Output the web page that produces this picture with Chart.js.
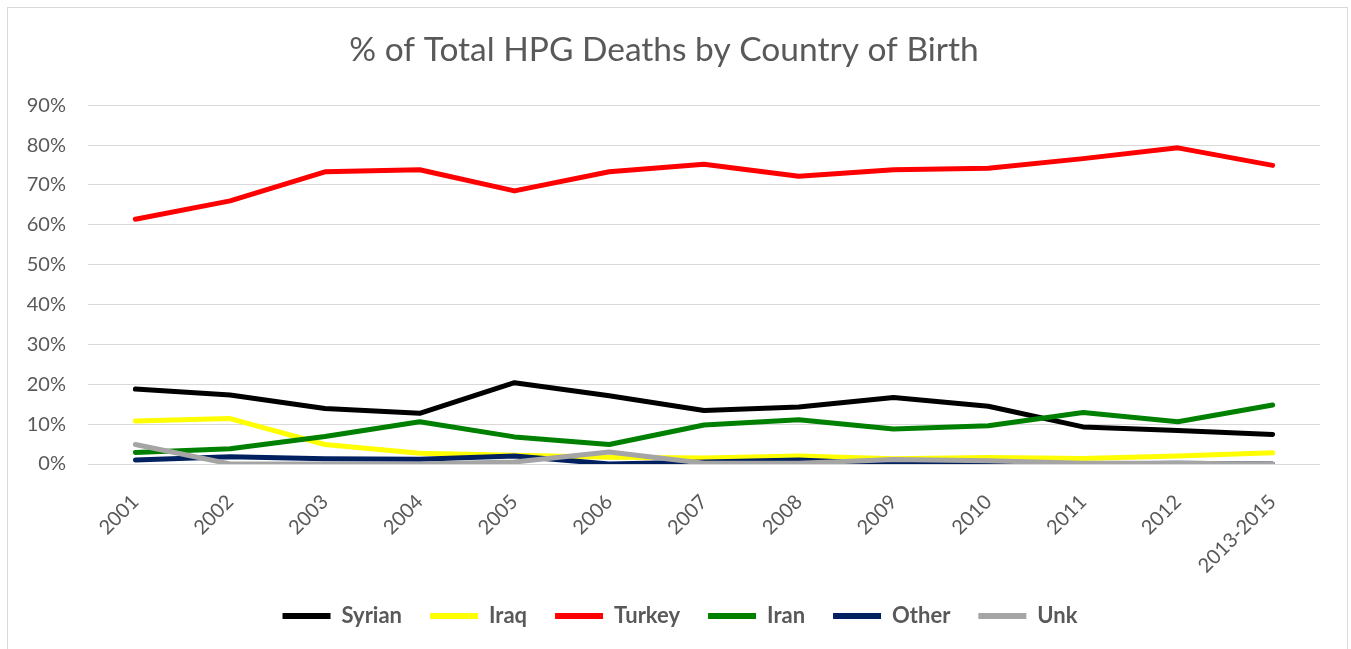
<!DOCTYPE html>
<html>
<head>
<meta charset="utf-8">
<script src="https://cdn.jsdelivr.net/npm/chart.js@4.4.0/dist/chart.umd.min.js"></script>
<style>
  body { margin: 0; background: #fff; }
  canvas { display: block; }
</style>
</head>
<body>
<canvas id="hpgChart" width="1351" height="649"></canvas>
<script>
const years = ['2001', '2002', '2003', '2004', '2005', '2006', '2007', '2008', '2009', '2010', '2011', '2012', '2013-2015'];

const syrian = [18.8, 17.3, 13.9, 12.7, 20.4, 17.1, 13.4, 14.3, 16.7, 14.5, 9.3, 8.4, 7.4];
const iraq   = [10.8, 11.4, 4.9, 2.7, 2.2, 1.7, 1.5, 2.0, 1.3, 1.6, 1.4, 2.0, 2.8];
const turkey = [61.4, 66.0, 73.3, 73.8, 68.5, 73.3, 75.2, 72.2, 73.8, 74.2, 76.6, 79.3, 74.9];
const iran   = [2.9, 3.8, 6.9, 10.6, 6.8, 4.9, 9.8, 11.1, 8.8, 9.6, 12.9, 10.6, 14.8];
const other  = [1.0, 1.8, 1.3, 1.2, 2.0, 0.0, 0.5, 1.0, 0.0, 0.1, 0.0, 0.2, 0.0];
const unk    = [4.9, 0.0, 0.0, 0.0, 0.5, 3.0, 0.2, 0.2, 1.1, 0.8, 0.2, 0.2, 0.0];

const seriesNames  = ['Syrian', 'Iraq', 'Turkey', 'Iran', 'Other', 'Unk'];
const seriesValues = [syrian, iraq, turkey, iran, other, unk];
const seriesColors = ['#000000', '#FFFF00', '#FF0000', '#008000', '#002060', '#A5A5A5'];

const yTicks = [0, 10, 20, 30, 40, 50, 60, 70, 80, 90];

const textGray = '#595959';
const fontFamily = 'Lato, "Open Sans", sans-serif';

// thin grey frame around the whole chart, like the Excel chart area
const frame = {
    id: 'frame',
    afterLayout(chart) {
        // Excel centres the legend a little right of the plot centre
        chart.legend.left += 16;
        chart.legend.right += 16;
    },
    afterDraw(chart) {
        const ctx = chart.ctx;
        ctx.save();
        ctx.strokeStyle = '#D9D9D9';
        ctx.lineWidth = 1;
        ctx.strokeRect(7.5, 7.5, 1340, 650);
        ctx.restore();
    }
};

const datasets = seriesNames.map((name, i) => ({
    label: name,
    data: seriesValues[i],
    borderColor: seriesColors[i],
    backgroundColor: seriesColors[i],
    borderWidth: 5,
    pointRadius: 0,
    pointHoverRadius: 0,
    tension: 0,
    borderCapStyle: 'round',
    borderJoinStyle: 'round',
    fill: false,
    order: seriesNames.length - i
}));

const ctx = document.getElementById('hpgChart').getContext('2d');

new Chart(ctx, {
    type: 'line',
    data: {
        labels: years,
        datasets: datasets
    },
    options: {
        responsive: false,
        animation: false,
        layout: {
            padding: { left: 8, right: 31, top: 8, bottom: 12 }
        },
        plugins: {
            title: {
                display: true,
                text: '% of Total HPG Deaths by Country of Birth',
                color: textGray,
                font: { family: fontFamily, size: 33.5, weight: 'normal' },
                padding: { top: 22, bottom: 35 }
            },
            legend: {
                position: 'bottom',
                labels: {
                    color: textGray,
                    font: { family: fontFamily, size: 22, weight: 'bold' },
                    boxWidth: 48,
                    boxHeight: 6,
                    useBorderRadius: true,
                    borderRadius: 3,
                    padding: 28,
                    sort: (a, b) => a.datasetIndex - b.datasetIndex,
                    generateLabels(chart) {
                        return chart.data.datasets.map((ds, i) => ({
                            text: ds.label,
                            fillStyle: ds.borderColor,
                            strokeStyle: ds.borderColor,
                            lineWidth: 0,
                            fontColor: textGray,
                            datasetIndex: i,
                            hidden: false
                        }));
                    }
                }
            },
            tooltip: { enabled: false }
        },
        scales: {
            x: {
                offset: true,
                grid: { display: false },
                border: { display: false },
                ticks: {
                    color: textGray,
                    font: { family: fontFamily, size: 20 },
                    minRotation: 45,
                    maxRotation: 45,
                    padding: 18
                },
                afterFit(scale) { scale.height = 113; }
            },
            y: {
                min: 0,
                max: 90,
                grid: { color: '#D9D9D9', lineWidth: 1, drawTicks: false },
                border: { display: false },
                afterBuildTicks(scale) {
                    scale.ticks = yTicks.map(v => ({ value: v }));
                },
                ticks: {
                    color: textGray,
                    font: { family: fontFamily, size: 20 },
                    padding: 22,
                    callback: v => v + '%'
                },
                afterFit(scale) { scale.width = 80; }
            }
        }
    },
    plugins: [frame]
});
</script>
</body>
</html>
